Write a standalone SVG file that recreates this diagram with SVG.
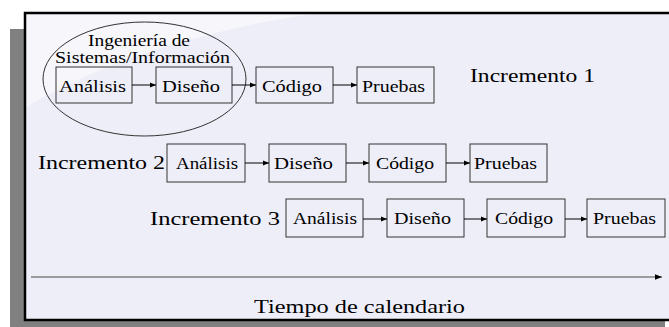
<svg xmlns="http://www.w3.org/2000/svg" width="669" height="327" viewBox="0 0 669 327">
<defs>
<marker id="ah" viewBox="0 0 10 10" refX="10" refY="5" markerWidth="7" markerHeight="6" markerUnits="userSpaceOnUse" orient="auto"><path d="M0,1 L10,5 L0,9 Z" fill="#000"/></marker>
<marker id="ah2" viewBox="0 0 10 10" refX="10" refY="5" markerWidth="8" markerHeight="7" markerUnits="userSpaceOnUse" orient="auto"><path d="M0,1 L10,5 L0,9 Z" fill="#000"/></marker>
</defs>
<style>
text{fill:#000;font-family:"Liberation Serif",serif}
.b{fill:none;stroke:#333;stroke-width:1}
.c{stroke:#000;stroke-width:1;fill:none;marker-end:url(#ah)}
.t{font-size:17px}
.s{font-size:16px}
.l{font-size:19px}
.e{font-size:16px}
</style>
<rect x="0" y="0" width="669" height="327" fill="#fff"/>
<rect x="10" y="29" width="655" height="298" fill="#808080"/>
<rect x="25" y="13" width="660" height="307" fill="#EEEEF8"/>
<path d="M25,13 L320,13 C250,22 180,40 120,62 C80,78 45,95 25,108 Z" fill="#F6F6FB"/>
<rect x="25" y="13" width="660" height="307" fill="none" stroke="#000" stroke-width="2.5"/>

<g id="sistemas">
<ellipse cx="144.5" cy="79" rx="101.5" ry="57" fill="none" stroke="#333" stroke-width="1"/>
<text class="e" x="88" y="46" textLength="102" lengthAdjust="spacingAndGlyphs">Ingeniería de</text>
<text class="e" x="55" y="63" textLength="175" lengthAdjust="spacingAndGlyphs">Sistemas/Información</text>
</g>

<g id="r1-analisis"><rect class="b" x="56" y="67" width="76" height="36"/><text class="t" x="59" y="92" textLength="67" lengthAdjust="spacingAndGlyphs">Análisis</text></g>
<g id="r1-diseno"><rect class="b" x="156" y="67" width="76" height="36"/><text class="t" x="162" y="92" textLength="58" lengthAdjust="spacingAndGlyphs">Diseño</text></g>
<g id="r1-codigo"><rect class="b" x="256" y="67" width="77" height="36"/><text class="t" x="262" y="92" textLength="60" lengthAdjust="spacingAndGlyphs">Código</text></g>
<g id="r1-pruebas"><rect class="b" x="357" y="67" width="77" height="36"/><text class="s" x="362" y="92" textLength="63" lengthAdjust="spacingAndGlyphs">Pruebas</text></g>
<g id="inc1"><text class="l" x="470" y="82" textLength="125" lengthAdjust="spacingAndGlyphs">Incremento 1</text></g>

<g id="inc2"><text class="l" x="38" y="169" textLength="127" lengthAdjust="spacingAndGlyphs">Incremento 2</text></g>
<g id="r2-analisis"><rect class="b" x="167" y="144" width="78" height="38"/><text class="s" x="176" y="169" textLength="62" lengthAdjust="spacingAndGlyphs">Análisis</text></g>
<g id="r2-diseno"><rect class="b" x="269" y="144" width="77" height="38"/><text class="t" x="274" y="169" textLength="59" lengthAdjust="spacingAndGlyphs">Diseño</text></g>
<g id="r2-codigo"><rect class="b" x="369" y="144" width="77" height="38"/><text class="t" x="376" y="169" textLength="58" lengthAdjust="spacingAndGlyphs">Código</text></g>
<g id="r2-pruebas"><rect class="b" x="470" y="144" width="77" height="38"/><text class="t" x="474" y="169" textLength="63" lengthAdjust="spacingAndGlyphs">Pruebas</text></g>

<g id="inc3"><text class="l" x="150" y="225" textLength="130" lengthAdjust="spacingAndGlyphs">Incremento 3</text></g>
<g id="r3-analisis"><rect class="b" x="286" y="199" width="77" height="38"/><text class="s" x="293" y="224" textLength="64" lengthAdjust="spacingAndGlyphs">Análisis</text></g>
<g id="r3-diseno"><rect class="b" x="387" y="199" width="77" height="38"/><text class="t" x="394" y="224" textLength="57" lengthAdjust="spacingAndGlyphs">Diseño</text></g>
<g id="r3-codigo"><rect class="b" x="487" y="199" width="78" height="38"/><text class="t" x="495" y="224" textLength="58" lengthAdjust="spacingAndGlyphs">Código</text></g>
<g id="r3-pruebas"><rect class="b" x="587" y="199" width="78" height="38"/><text class="t" x="593" y="224" textLength="63" lengthAdjust="spacingAndGlyphs">Pruebas</text></g>

<g id="tiempo"><text class="l" x="254" y="313" textLength="211" lengthAdjust="spacingAndGlyphs">Tiempo de calendario</text></g>

<g id="connectors">
<line class="c" x1="132" y1="85" x2="156" y2="85"/>
<line class="c" x1="232" y1="85" x2="256" y2="85"/>
<line class="c" x1="333" y1="85" x2="357" y2="85"/>
<line class="c" x1="245" y1="163" x2="269" y2="163"/>
<line class="c" x1="346" y1="163" x2="369" y2="163"/>
<line class="c" x1="446" y1="163" x2="470" y2="163"/>
<line class="c" x1="363" y1="219" x2="387" y2="219"/>
<line class="c" x1="464" y1="219" x2="487" y2="219"/>
<line class="c" x1="565" y1="219" x2="587" y2="219"/>
<line x1="31" y1="277" x2="662" y2="277" stroke="#808080" stroke-width="1.6" marker-end="url(#ah2)"/>
</g>
</svg>
